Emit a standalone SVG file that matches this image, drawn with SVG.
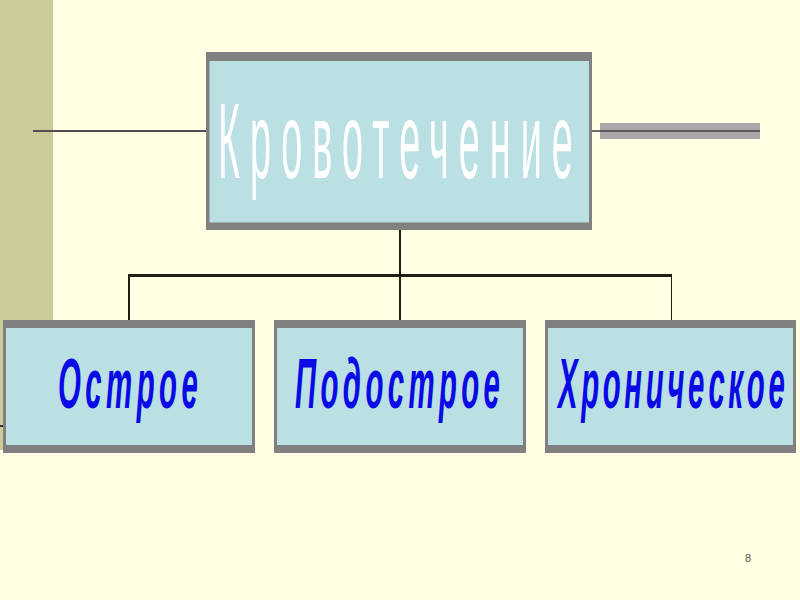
<svg xmlns="http://www.w3.org/2000/svg" width="800" height="600" viewBox="0 0 800 600">
<style>
.frame{fill:#808080}
.fill{fill:#BBE0E3}
.title{font-family:"Liberation Sans",Arial,sans-serif;fill:#FFFFFF;font-size:108px}
.lbl{font-family:"Liberation Sans",Arial,sans-serif;fill:#0A0AE6;font-size:70px;font-weight:bold;font-style:italic}
.ln{stroke:#1E1E14;fill:none}
</style>
<rect x="0" y="0" width="800" height="600" fill="#FFFFE3"/>
<rect x="0" y="0" width="53" height="450" fill="#CBCA99"/>
<line x1="0" y1="426" x2="4" y2="426" stroke="#3A2A3A" stroke-width="2"/>
<g id="connectors">
  <line x1="33" y1="131" x2="207" y2="131" stroke="#5A4A55" stroke-width="2"/>
  <rect x="600" y="123" width="160" height="16" fill="#AAA6AA"/>
  <line x1="592" y1="131" x2="760" y2="131" stroke="#4A3A4A" stroke-width="1.5"/>
  <line class="ln" x1="400" y1="230" x2="400" y2="321" stroke-width="2"/>
  <line class="ln" x1="128" y1="275.5" x2="672" y2="275.5" stroke-width="3" stroke="#000"/>
  <line class="ln" x1="129" y1="275" x2="129" y2="321" stroke-width="2" stroke="#000"/>
  <line class="ln" x1="671.5" y1="275" x2="671.5" y2="321" stroke-width="1" stroke="#333"/>
</g>
<g id="node-main">
  <rect class="frame" x="206" y="52" width="386" height="178"/>
  <rect class="fill" x="209.5" y="61" width="379.5" height="161.5"/>
  <text class="title" transform="translate(218,178) scale(0.35,1)" x="0" y="0" textLength="1014" lengthAdjust="spacing">Кровотечение</text>
</g>
<g id="node-acute">
  <rect class="frame" x="3" y="320" width="252" height="133"/>
  <rect class="fill" x="6" y="328" width="246" height="117"/>
  <text class="lbl" transform="translate(58,408) scale(0.42,1)" x="0" y="0" textLength="333" lengthAdjust="spacing">Острое</text>
</g>
<g id="node-subacute">
  <rect class="frame" x="274" y="320" width="252" height="133"/>
  <rect class="fill" x="277" y="328" width="246" height="117"/>
  <text class="lbl" transform="translate(295,408) scale(0.42,1)" x="0" y="0" textLength="488" lengthAdjust="spacing">Подострое</text>
</g>
<g id="node-chronic">
  <rect class="frame" x="545" y="320" width="251" height="133"/>
  <rect class="fill" x="548" y="328" width="245" height="117"/>
  <text class="lbl" transform="translate(558,408) scale(0.42,1)" x="0" y="0" textLength="540" lengthAdjust="spacing">Хроническое</text>
</g>
<text x="748" y="562" font-family="'Liberation Sans',Arial,sans-serif" font-size="11" fill="#555544" text-anchor="middle">8</text>
</svg>
